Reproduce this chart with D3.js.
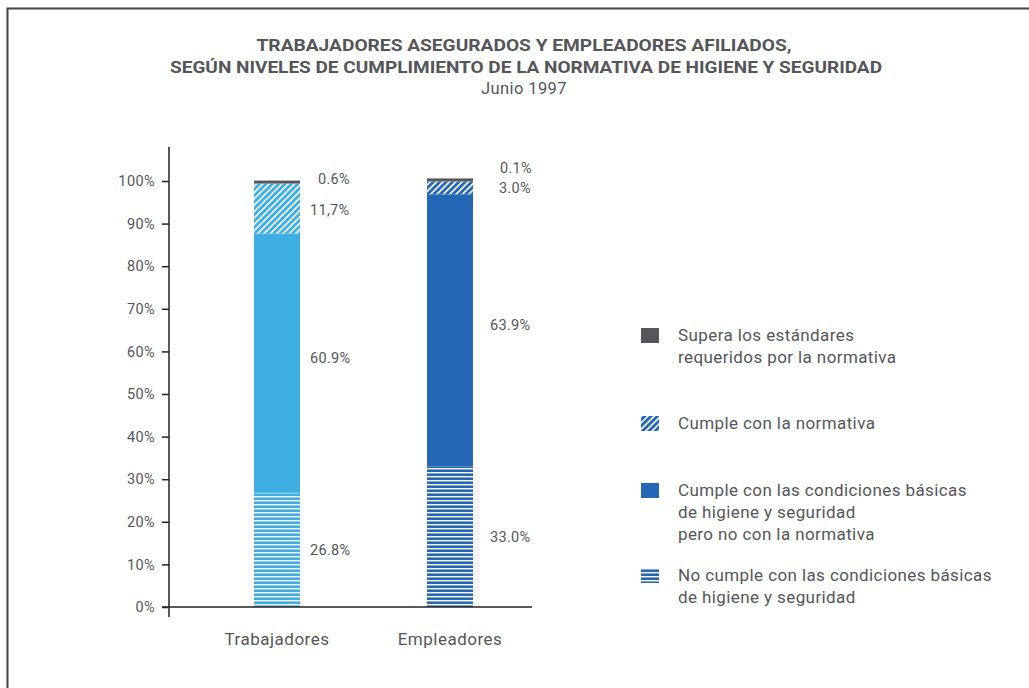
<!DOCTYPE html>
<html>
<head>
<meta charset="utf-8">
<script src="https://cdn.jsdelivr.net/npm/d3@7"></script>
<style>
  body { margin: 0; background: #fff; }
  text { font-family: Roboto, "DejaVu Sans", sans-serif; fill: #55565a; }
</style>
</head>
<body>
<div id="chart"></div>
<script>
// categories and series (bottom to top of each stacked bar)
var categories = ["Trabajadores", "Empleadores"];
var seriesKeys = ["noCumple", "basicas", "cumple", "supera"];
var trabajadores = [26.8, 60.9, 11.7, 0.6];
var empleadores = [33.0, 63.9, 3.0, 0.1];
var valueLabels = [["26.8%", "60.9%", "11,7%", "0.6%"], ["33.0%", "63.9%", "3.0%", "0.1%"]];
var yTicks = [0, 10, 20, 30, 40, 50, 60, 70, 80, 90, 100];

var legendLines = [
  ["Supera los estándares", "requeridos por la normativa"],
  ["Cumple con la normativa"],
  ["Cumple con las condiciones básicas", "de higiene y seguridad", "pero no con la normativa"],
  ["No cumple con las condiciones básicas", "de higiene y seguridad"]
];

var svgWidth = 1029;
var svgHeight = 688;

var barColors = ["#3eaee3", "#2467b4"];
var topColor = "#57575b";

var svg = d3.select("#chart")
  .append("svg")
  .attr("width", svgWidth)
  .attr("height", svgHeight);

// frame
svg.append("path")
  .attr("d", "M7.5,700 L7.5,8.5 L1040,8.5")
  .attr("fill", "none")
  .attr("stroke", "#444")
  .attr("stroke-width", 2);

// patterns: diagonal hatch and horizontal stripes for each bar colour
var defs = svg.append("defs");
barColors.forEach(function(c, i) {
  var diag = defs.append("pattern")
    .attr("id", "diag" + i)
    .attr("patternUnits", "userSpaceOnUse")
    .attr("width", 4.5)
    .attr("height", 4.5)
    .attr("patternTransform", "rotate(45)");
  diag.append("rect").attr("width", 4.5).attr("height", 4.5).attr("fill", c);
  diag.append("rect").attr("x", 0).attr("width", 1.6).attr("height", 4.5).attr("fill", "#fff");

  var horiz = defs.append("pattern")
    .attr("id", "horiz" + i)
    .attr("patternUnits", "userSpaceOnUse")
    .attr("width", 10)
    .attr("height", 4);
  horiz.append("rect").attr("width", 10).attr("height", 4).attr("fill", "#fff");
  horiz.append("rect").attr("y", 1.4).attr("width", 10).attr("height", 2.6).attr("fill", c);
});

function fillFor(key, i) {
  if (key === "supera") return topColor;
  if (key === "cumple") return "url(#diag" + i + ")";
  if (key === "basicas") return barColors[i];
  return "url(#horiz" + i + ")";
}

// title
var title = svg.append("g").attr("text-anchor", "middle");
title.append("text")
  .attr("x", 524).attr("y", 51)
  .attr("font-size", 16).attr("font-weight", "bold")
  .attr("textLength", 535).attr("lengthAdjust", "spacingAndGlyphs")
  .text("TRABAJADORES ASEGURADOS Y EMPLEADORES AFILIADOS,");
title.append("text")
  .attr("x", 526).attr("y", 73)
  .attr("font-size", 16).attr("font-weight", "bold")
  .attr("textLength", 712).attr("lengthAdjust", "spacingAndGlyphs")
  .text("SEGÚN NIVELES DE CUMPLIMIENTO DE LA NORMATIVA DE HIGIENE Y SEGURIDAD");
title.append("text")
  .attr("x", 524).attr("y", 94)
  .attr("font-size", 16.5)
  .attr("letter-spacing", 0.4)
  .text("Junio 1997");

// scales
var y = d3.scaleLinear().domain([0, 100]).range([607, 181]);
var x = d3.scalePoint().domain(categories).range([277, 450]);
var barWidth = 46;

// y axis
var yAxis = svg.append("g")
  .attr("transform", "translate(169,0)")
  .call(d3.axisLeft(y).tickValues(yTicks).tickSize(7).tickPadding(7).tickFormat(d => d + "%"));
yAxis.select(".domain").remove();
yAxis.selectAll(".tick line").attr("stroke", "#222").attr("stroke-width", 1.5);
yAxis.selectAll(".tick text")
  .attr("font-family", "Roboto, sans-serif")
  .attr("font-size", 14.5)
  .attr("letter-spacing", 0.4)
  .attr("fill", "#55565a");

svg.append("line")
  .attr("x1", 169).attr("x2", 169)
  .attr("y1", 147).attr("y2", 617)
  .attr("stroke", "#222").attr("stroke-width", 1.5);

// stacked bars
var allValues = [trabajadores, empleadores];
categories.forEach(function(cat, i) {
  var vals = allValues[i];
  var cum = 0;
  var g = svg.append("g");
  vals.forEach(function(v, k) {
    var y0 = cum;
    cum += v;
    var h = y(y0) - y(cum);
    // keep the thin top band visible
    if (seriesKeys[k] === "supera") h = Math.max(h, 3);
    g.append("rect")
      .attr("x", x(cat) - barWidth / 2)
      .attr("y", y(y0) - h)
      .attr("width", barWidth)
      .attr("height", h)
      .attr("fill", fillFor(seriesKeys[k], i));

    // value label beside the segment
    var ly = y(y0 + v / 2) + 5;
    var lx = x(cat) + barWidth / 2 + (i === 0 ? 10 : 17);
    if (k === 1) ly -= 5;
    if (k === 3) { ly -= 3; lx += 8; }
    if (i === 0 && k === 2) ly += 2;
    if (i === 1 && k === 3) { ly -= 10; lx += 2; } // 0.1% sits above the bar
    if (i === 1 && k === 2) lx += 9;
    g.append("text")
      .attr("x", lx)
      .attr("y", ly)
      .attr("font-size", 14.5)
      .attr("letter-spacing", 0.3)
      .text(valueLabels[i][k]);
  });
});

// x axis baseline
svg.append("line")
  .attr("x1", 162).attr("x2", 532)
  .attr("y1", 607).attr("y2", 607)
  .attr("stroke", "#222").attr("stroke-width", 1.5);

svg.selectAll(".cat-label")
  .data(categories)
  .enter()
  .append("text")
  .attr("class", "cat-label")
  .attr("x", d => x(d))
  .attr("y", 645)
  .attr("text-anchor", "middle")
  .attr("font-size", 17)
  .attr("letter-spacing", 0.5)
  .text(d => d);

// legend (top to bottom)
var legendKeys = ["supera", "cumple", "basicas", "noCumple"];
var legendY = [328, 416, 483, 568];
var legend = svg.append("g");
legendKeys.forEach(function(key, j) {
  legend.append("rect")
    .attr("x", 641)
    .attr("y", legendY[j])
    .attr("width", 18)
    .attr("height", 15)
    .attr("fill", fillFor(key, 1));
  legendLines[j].forEach(function(line, n) {
    legend.append("text")
      .attr("x", 678)
      .attr("y", legendY[j] + 13 + n * 22)
      .attr("font-size", 17)
      .attr("letter-spacing", 0.4)
      .text(line);
  });
});
</script>
</body>
</html>
